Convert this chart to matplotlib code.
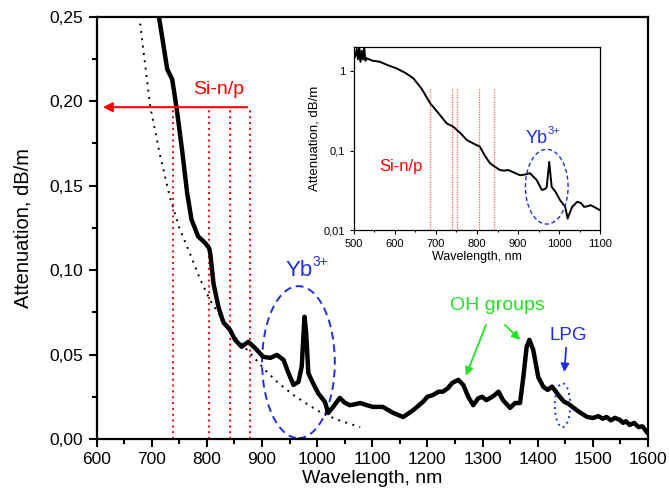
import matplotlib

matplotlib.use("Agg")
import matplotlib.pyplot as plt
import numpy as np
from matplotlib.patches import Ellipse
from matplotlib.ticker import FuncFormatter, MultipleLocator, FixedLocator

plt.rcParams["font.family"] = ["Liberation Sans", "DejaVu Sans"]

# main spectrum (linear scale)
wl_main = [705, 713, 728, 737, 745, 755, 764, 772, 784, 797, 804, 806, 812, 821, 830,
           842, 851, 863, 875, 887, 902, 915, 927, 939, 948, 957, 966, 972, 977, 980,
           984, 991, 1002, 1014, 1020, 1029, 1041, 1050, 1059, 1068, 1078, 1090, 1101,
           1119, 1138, 1156, 1174, 1192, 1200, 1210, 1220, 1228, 1237, 1245, 1256,
           1265, 1274, 1283, 1292, 1299, 1307, 1314, 1322, 1329, 1337, 1350, 1359,
           1368, 1374, 1380, 1385, 1392, 1401, 1410, 1418, 1426, 1433, 1440, 1448,
           1455, 1463, 1471, 1480, 1490, 1500, 1510, 1518, 1525, 1533, 1540, 1549,
           1555, 1560, 1567, 1575, 1583, 1590, 1598]
att_main = [0.28, 0.25, 0.219, 0.213, 0.196, 0.171, 0.146, 0.130, 0.120, 0.116, 0.113,
            0.110, 0.092, 0.078, 0.069, 0.0646, 0.0587, 0.0546, 0.0575, 0.054, 0.0487,
            0.048, 0.0498, 0.0468, 0.039, 0.032, 0.0338, 0.043, 0.0724, 0.063, 0.039,
            0.034, 0.027, 0.022, 0.0154, 0.019, 0.0243, 0.0215, 0.020, 0.0205, 0.0213,
            0.020, 0.019, 0.019, 0.0154, 0.013, 0.017, 0.022, 0.025, 0.026, 0.028,
            0.028, 0.030, 0.0332, 0.035, 0.032, 0.025, 0.020, 0.024, 0.025, 0.023,
            0.0243, 0.026, 0.028, 0.023, 0.0184, 0.0213, 0.0213, 0.0367, 0.0546,
            0.0587, 0.0527, 0.0367, 0.031, 0.029, 0.031, 0.028, 0.025, 0.022, 0.021,
            0.019, 0.017, 0.015, 0.013, 0.0124, 0.0135, 0.012, 0.013, 0.011, 0.0125,
            0.0113, 0.0095, 0.0105, 0.0083, 0.0095, 0.007, 0.0075, 0.0041]

# dotted scattering fit
wl_fit = [679, 697, 715, 733, 750, 769, 787, 806, 830, 855, 878, 905, 930, 957, 985,
          1010, 1040, 1078]
att_fit = [0.246, 0.197, 0.168, 0.143, 0.125, 0.110, 0.095, 0.082, 0.070, 0.059,
           0.051, 0.041, 0.033, 0.026, 0.020, 0.015, 0.011, 0.007]

# inset spectrum (log scale)
wl_ins = [503, 507, 510, 513, 516, 519, 522, 525, 528, 531, 545, 563, 580, 604, 625,
          645, 665, 686, 705, 726, 742, 760, 775, 795, 807, 820, 832, 845, 856, 866,
          876, 890, 905, 917, 929, 945, 958, 966, 970, 976, 982, 992, 1002, 1015,
          1021, 1027, 1032, 1044, 1053, 1061, 1070, 1077, 1090, 1100]
att_ins = [1.5, 1.9, 1.4, 2.0, 1.3, 1.8, 1.4, 2.0, 1.35, 1.45, 1.35, 1.31, 1.2, 1.08,
           0.95, 0.81, 0.6, 0.393, 0.3, 0.22, 0.2, 0.165, 0.136, 0.12, 0.112, 0.085,
           0.069, 0.062, 0.057, 0.056, 0.057, 0.053, 0.049, 0.05, 0.052, 0.043, 0.032,
           0.033, 0.035, 0.072, 0.035, 0.03, 0.024, 0.0196, 0.014, 0.017, 0.0196,
           0.0227, 0.022, 0.0196, 0.020, 0.0206, 0.019, 0.0178]

sinp_main = [739, 804, 842, 878]
sinp_ins = [686, 739, 751, 806, 841]

BLUE = "#1f2fe0"
GREEN = "#22e022"
comma = FuncFormatter(lambda v, p: f"{v:.2f}".replace(".", ","))


def yb_label(axes, x, y, size):
    # "Yb" + small raised "3+"
    t = axes.text(x, y, "Yb", color=BLUE, fontsize=size, ha="right", va="center")
    axes.annotate("3+", xy=(1.0, 0.95), xycoords=t, color=BLUE, fontsize=size * 0.62,
                  ha="left", va="center")


fig = plt.figure(figsize=(6.69, 4.96), dpi=100)
ax = fig.add_axes([0.1445, 0.115, 0.824, 0.851])

ax.plot(wl_fit, att_fit, color="black", linestyle=(0, (1, 2.8)), linewidth=1.4)
ax.vlines(sinp_main, 0, 0.1965, colors="red", linestyles=(0, (1, 2)), linewidth=1.4)
ax.plot(wl_main, att_main, color="black", linewidth=3.2, solid_joinstyle="round")
ax.annotate("", xy=(606, 0.1965), xytext=(878, 0.1965),
            arrowprops=dict(arrowstyle="-|>", color="red", lw=1.5, mutation_scale=14))
ax.text(822, 0.207, "Si-n/p", color="red", fontsize=14, ha="center", va="center")

ax.add_patch(Ellipse((966, 0.0455), 132, 0.09, fill=False, edgecolor=BLUE,
                     linestyle=(0, (4, 2.5)), linewidth=1.4))
yb_label(ax, 992, 0.0995, 16)

ax.text(1327, 0.079, "OH groups", color=GREEN, fontsize=14, ha="center", va="center")
ax.annotate("", xy=(1268, 0.036), xytext=(1308, 0.069),
            arrowprops=dict(arrowstyle="-|>", color=GREEN, lw=1.3, mutation_scale=12))
ax.annotate("", xy=(1372, 0.0575), xytext=(1337, 0.0687),
            arrowprops=dict(arrowstyle="-|>", color=GREEN, lw=1.3, mutation_scale=12))

ax.text(1456, 0.061, "LPG", color=BLUE, fontsize=13.5, ha="center", va="center")
ax.annotate("", xy=(1448, 0.038), xytext=(1452, 0.0557),
            arrowprops=dict(arrowstyle="-|>", color=BLUE, lw=1.3, mutation_scale=12))
ax.add_patch(Ellipse((1445, 0.020), 28, 0.026, fill=False,
                     edgecolor=BLUE, linestyle=(0, (1, 2)), linewidth=1.4))

ax.set_xlim(600, 1600)
ax.set_ylim(0, 0.25)
ax.xaxis.set_major_locator(MultipleLocator(100))
ax.xaxis.set_minor_locator(MultipleLocator(50))
ax.yaxis.set_major_locator(MultipleLocator(0.05))
ax.yaxis.set_minor_locator(MultipleLocator(0.025))
ax.yaxis.set_major_formatter(comma)
ax.tick_params(which="major", direction="out", length=6, width=1.5, labelsize=12.5)
ax.tick_params(which="minor", direction="out", length=3.5, width=1.5)
for s in ax.spines.values():
    s.set_linewidth(1.6)
ax.set_xlabel("Wavelength, nm", fontsize=14, labelpad=2)
ax.set_ylabel("Attenuation, dB/m", fontsize=14.5, labelpad=12)

# inset
axi = fig.add_axes([0.529, 0.536, 0.368, 0.369])
axi.set_yscale("log")
axi.vlines(sinp_ins, 0.01, 0.62, colors="#ff6060", linestyles=(0, (1, 1)), linewidth=0.9)
axi.plot(wl_ins, att_ins, color="black", linewidth=1.4)
t = np.linspace(0, 2 * np.pi, 200)
axi.plot(970 + 52 * np.cos(t), 10 ** (np.log10(0.0352) + 0.47 * np.sin(t)),
         color=BLUE, linestyle=(0, (3, 2)), linewidth=1.0)
yb_label(axi, 973, 0.14, 13)
axi.text(615, 0.063, "Si-n/p", color="red", fontsize=12, ha="center", va="center")
axi.set_xlim(500, 1100)
axi.set_ylim(0.01, 2)
axi.xaxis.set_major_locator(MultipleLocator(100))
axi.xaxis.set_minor_locator(MultipleLocator(50))
axi.yaxis.set_major_locator(FixedLocator([0.01, 0.1, 1]))
axi.yaxis.set_major_formatter(FuncFormatter(lambda v, p: {0.01: "0,01", 0.1: "0,1", 1: "1"}.get(round(v, 2), "")))
axi.yaxis.set_minor_locator(FixedLocator([]))
axi.tick_params(which="major", direction="out", length=3, width=0.8, labelsize=8)
axi.tick_params(which="minor", direction="out", length=1.5, width=0.8)
for s in axi.spines.values():
    s.set_linewidth(0.9)
axi.set_xlabel("Wavelength, nm", fontsize=9, labelpad=1)
axi.set_ylabel("Attenuation, dB/m", fontsize=9.5, labelpad=2)

fig.savefig("out.png", dpi=100)
